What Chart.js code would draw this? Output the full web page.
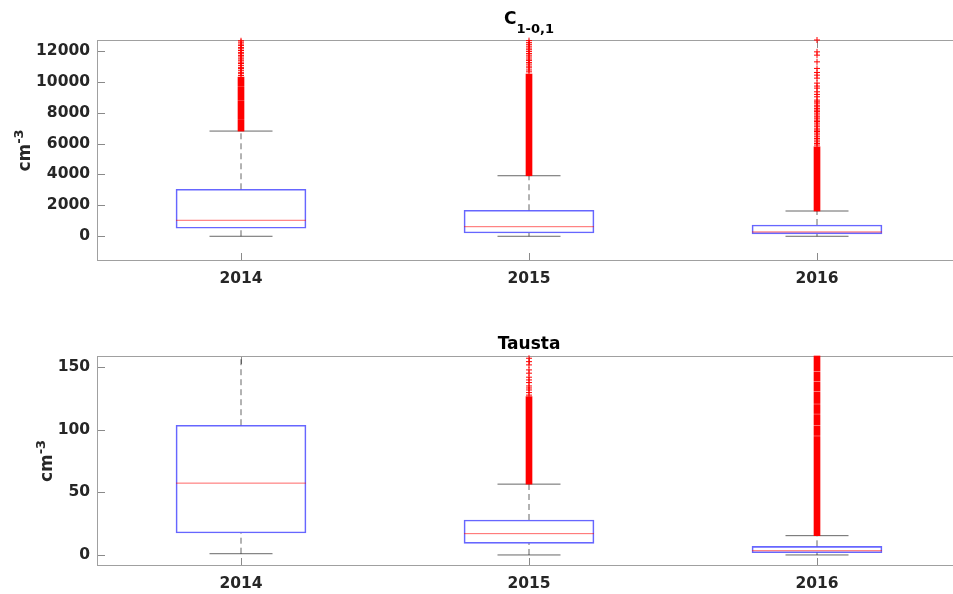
<!DOCTYPE html>
<html>
<head>
<meta charset="utf-8">
<script src="https://cdn.jsdelivr.net/npm/chart.js@4.4.1/dist/chart.umd.min.js"></script>
<style>
  html, body { margin: 0; padding: 0; background: #fff; overflow: hidden; width: 953px; height: 594px; }
  canvas.panel { position: absolute; left: 0; }
</style>
</head>
<body>
<canvas id="c101" class="panel" width="975" height="297" style="top:0px"></canvas>
<canvas id="tausta" class="panel" width="975" height="297" style="top:297px"></canvas>
<script>
// ---- categories ----
const years = ['2014', '2015', '2016'];

// ---- C(1-0,1) box statistics, cm^-3 ----
const c101Q1 = [517, 213, 150];
const c101Median = [1034, 620, 280];
const c101Q3 = [3040, 1681, 730];
const c101WhiskerLow = [0, 0, 0];
const c101WhiskerHigh = [6807, 3917, 1635];
const c101Ticks = [0, 2000, 4000, 6000, 8000, 10000, 12000];
const c101Range = [-1600, 12700];
// continuous runs of outliers (packed so tightly they form a solid column)
const c101OutlierRuns = [
  [[6807, 7560], [7610, 8740], [8790, 9690], [9740, 10300]],
  [[3917, 10500]],
  [[1635, 5790]]
];
// individually visible outliers
const c101Outliers = [
  [10400, 10520, 10610, 10740, 10850, 10930, 11060, 11180, 11270, 11390, 11480,
   11600, 11690, 11810, 11900, 12020, 12130, 12220, 12350, 12440, 12560, 12650],
  [10640, 10760, 10900, 11010, 11140, 11250, 11380, 11470, 11600, 11720, 11830,
   11960, 12070, 12180, 12300, 12420, 12530, 12660],
  [5902, 6000, 6110, 6225, 6330, 6438, 6560, 6677, 6780, 6871, 6950, 7085, 7200, 7324,
   7430, 7518, 7640, 7731, 7850, 7970, 8080, 8164, 8260, 8377, 8480, 8617, 8700, 8811,
   9024, 9180, 9347, 9586, 9720, 9910, 10233, 10427, 10600, 10860, 11286, 11720,
   11933, 12700]
];

// ---- Tausta box statistics, cm^-3 ----
const tQ1 = [17.5, 9.3, 1.8];
const tMedian = [57.3, 17.0, 3.4];
const tQ3 = [103.5, 27.9, 6.9];
const tWhiskerLow = [1.0, 0, 0];
const tWhiskerHigh = [165, 56.5, 15.4];
const tTicks = [0, 50, 100, 150];
const tRange = [-8.8, 158.7];
const tOutlierRuns = [
  [],
  [[56.5, 126.3]],
  [[15.4, 94.5], [95.3, 103], [103.8, 112], [112.8, 120], [120.8, 130],
   [130.8, 138], [138.8, 146], [146.8, 158.7]]
];
const tOutliers = [
  [],
  [127.5, 129.5, 131.6, 133.2, 134.8, 137.5, 139.6, 141.8, 145.0, 147.6, 151.6, 154.2, 156.9],
  []
];

const FONT = 'DejaVu Sans';
const TEXT = '#262626';

// Frame around the plot area plus inward-pointing tick marks on all four sides.
const frameTicks = {
  id: 'frameTicks',
  beforeDatasetsDraw(chart) {
    const { ctx, chartArea: a, scales } = chart;
    const len = 8;
    ctx.save();
    ctx.strokeStyle = '#8a8a8a';
    ctx.lineWidth = 1;
    ctx.beginPath();
    scales.y.ticks.forEach(t => {
      const y = Math.round(scales.y.getPixelForValue(t.value)) + 0.5;
      ctx.moveTo(a.left, y); ctx.lineTo(a.left + len, y);
      ctx.moveTo(a.right, y); ctx.lineTo(a.right - len, y);
    });
    scales.x.ticks.forEach((t, i) => {
      const x = Math.round(scales.x.getPixelForTick(i)) + 0.5;
      ctx.moveTo(x, a.bottom); ctx.lineTo(x, a.bottom - len);
      ctx.moveTo(x, a.top); ctx.lineTo(x, a.top + len);
    });
    ctx.stroke();
    ctx.strokeStyle = '#a0a0a0';
    ctx.strokeRect(a.left + 0.5, a.top + 0.5, a.right - a.left - 1, a.bottom - a.top - 1);
    ctx.restore();
  }
};

// Title (with optional subscript) and the rotated y-axis label cm^-3.
const panelText = {
  id: 'panelText',
  afterDraw(chart, args, opts) {
    const { ctx, chartArea: a, scales } = chart;
    ctx.save();
    ctx.fillStyle = '#000';
    ctx.textBaseline = 'alphabetic';
    ctx.textAlign = 'left';
    // title
    const main = opts.title, sub = opts.subscript || '';
    ctx.font = `bold 17px "${FONT}"`;
    const wMain = ctx.measureText(main).width;
    ctx.font = `bold 13px "${FONT}"`;
    const wSub = sub ? ctx.measureText(sub).width : 0;
    const cx = (a.left + a.right) / 2;
    let x0 = cx - (wMain + wSub) / 2;
    const by = a.top - opts.titleGap;
    ctx.font = `bold 17px "${FONT}"`;
    ctx.fillText(main, x0, by);
    if (sub) {
      ctx.font = `bold 13px "${FONT}"`;
      ctx.fillText(sub, x0 + wMain, by + 9);
    }
    // y label: find where tick labels start
    ctx.font = `bold 15.5px "${FONT}"`;
    let maxW = 0;
    scales.y.ticks.forEach(t => { maxW = Math.max(maxW, ctx.measureText(t.label).width); });
    const labelX = a.left - 7 - maxW - 6;
    const cy = (a.top + a.bottom) / 2;
    ctx.fillStyle = TEXT;
    ctx.translate(labelX, cy);
    ctx.rotate(-Math.PI / 2);
    ctx.font = `bold 17px "${FONT}"`;
    const wcm = ctx.measureText('cm').width;
    ctx.font = `bold 13px "${FONT}"`;
    const wexp = ctx.measureText('-3').width;
    const sx = -(wcm + wexp) / 2;
    ctx.font = `bold 17px "${FONT}"`;
    ctx.fillText('cm', sx, 0);
    ctx.font = `bold 13px "${FONT}"`;
    ctx.fillText('-3', sx + wcm, -7);
    ctx.restore();
  }
};

function buildPanel(id, p) {
  const canvas = document.getElementById(id);
  const W = canvas.width, H = canvas.height;

  const boxData = p.q1.map((v, i) => [v, p.q3[i]]);
  const medData = p.median.map((v, i) => ({ x: years[i], y: v }));
  const capData = [], whiskerData = [], runData = [], outData = [];
  years.forEach((c, i) => {
    capData.push({ x: c, y: p.low[i] }, { x: c, y: p.high[i] });
    whiskerData.push(
      { x: c, y: p.q3[i] }, { x: c, y: p.high[i] }, { x: c, y: null },
      { x: c, y: p.low[i] }, { x: c, y: p.q1[i] }, { x: c, y: null });
    p.runs[i].forEach(r => runData.push({ x: c, y: [r[0], r[1]] }));
    p.outliers[i].forEach(v => outData.push({ x: c, y: v }));
  });

  return new Chart(canvas, {
    type: 'bar',
    data: {
      labels: years,
      datasets: [
        { type: 'line', data: outData, showLine: false, pointStyle: 'cross',
          pointRadius: 3, pointBorderWidth: 1, pointBorderColor: '#ff0000',
          borderColor: '#ff0000', clip: 4 },
        { type: 'bar', data: runData, backgroundColor: '#ff0000', borderWidth: 0,
          barThickness: 6, grouped: false, clip: 3 },
        { type: 'line', data: medData, showLine: false, pointStyle: 'line',
          pointRadius: 65, pointBorderWidth: 1, pointBorderColor: 'rgba(255,0,0,0.6)' },
        { type: 'bar', data: boxData, backgroundColor: 'rgba(0,0,0,0)',
          borderColor: 'rgba(0,0,255,0.6)', borderWidth: 1, borderSkipped: false,
          barThickness: 130, grouped: false },
        { type: 'line', data: capData, showLine: false, pointStyle: 'line',
          pointRadius: 31.5, pointBorderWidth: 1, pointBorderColor: 'rgba(0,0,0,0.6)' },
        { type: 'line', data: whiskerData, spanGaps: false, pointRadius: 0,
          borderColor: 'rgba(0,0,0,0.6)', borderWidth: 1, borderDash: [6, 4] }
      ]
    },
    options: {
      responsive: false,
      animation: false,
      events: [],
      layout: { autoPadding: false, padding: { top: p.areaTop, right: W - 961, bottom: 0, left: 0 } },
      plugins: {
        legend: { display: false },
        title: { display: false },
        tooltip: { enabled: false },
        panelText: { title: p.title, subscript: p.subscript, titleGap: p.titleGap }
      },
      scales: {
        x: {
          type: 'category', offset: true,
          grid: { display: false, drawTicks: false }, border: { display: false },
          ticks: { color: TEXT, padding: 9, font: { family: FONT, size: 15.5, weight: 'bold' } },
          afterFit: s => { s.height = H - p.areaBottom; }
        },
        y: {
          type: 'linear', min: p.range[0], max: p.range[1],
          grid: { display: false, drawTicks: false }, border: { display: false },
          afterBuildTicks: s => { s.ticks = p.ticks.map(v => ({ value: v })); },
          ticks: { color: TEXT, padding: 7, font: { family: FONT, size: 15.5, weight: 'bold' },
                   callback: v => String(v) },
          afterFit: s => { s.width = 97; }
        }
      }
    },
    plugins: [frameTicks, panelText]
  });
}

buildPanel('c101', {
  q1: c101Q1, median: c101Median, q3: c101Q3, low: c101WhiskerLow, high: c101WhiskerHigh,
  runs: c101OutlierRuns, outliers: c101Outliers, ticks: c101Ticks, range: c101Range,
  title: 'C', subscript: '1-0,1', titleGap: 16, areaTop: 40, areaBottom: 261
});
buildPanel('tausta', {
  q1: tQ1, median: tMedian, q3: tQ3, low: tWhiskerLow, high: tWhiskerHigh,
  runs: tOutlierRuns, outliers: tOutliers, ticks: tTicks, range: tRange,
  title: 'Tausta', subscript: '', titleGap: 7, areaTop: 59, areaBottom: 269
});
</script>
</body>
</html>
